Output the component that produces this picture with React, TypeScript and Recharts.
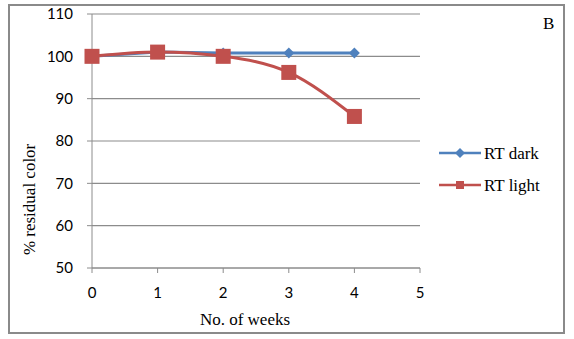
import React from "react";
import {
  LineChart,
  Line,
  XAxis,
  YAxis,
  CartesianGrid,
  Legend,
} from "recharts";

const weeks = [0, 1, 2, 3, 4];
const rtDark = [100, 101, 100.8, 100.8, 100.8];
const rtLight = [100, 101, 100, 96.2, 85.8];
const xTicks = [0, 1, 2, 3, 4, 5];
const yTicks = [50, 60, 70, 80, 90, 100, 110];

const data = weeks.map((w, i) => ({ week: w, dark: rtDark[i], light: rtLight[i] }));

const BLUE = "#4F81BD";
const RED = "#C0504D";
const GRID = "#8c8c8c";
const SERIF = "'Liberation Serif', 'Times New Roman', serif";
const SANS = "Lato, 'Open Sans', sans-serif";

const Diamond = (props: any) => {
  const { cx, cy } = props;
  if (cx == null || cy == null) return null;
  const r = 5.5;
  return (
    <path
      d={`M${cx},${cy - r} L${cx + r},${cy} L${cx},${cy + r} L${cx - r},${cy} Z`}
      fill={BLUE}
    />
  );
};

const Square = (props: any) => {
  const { cx, cy } = props;
  if (cx == null || cy == null) return null;
  const s = 7.5;
  return <rect x={cx - s} y={cy - s} width={s * 2} height={s * 2} fill={RED} />;
};

const LegendContent = () => (
  <svg width={125} height={70}>
    <line x1={0} y1={12} x2={42} y2={12} stroke={BLUE} strokeWidth={2.5} />
    <path d="M21,7 L26,12 L21,17 L16,12 Z" fill={BLUE} />
    <text x={45} y={18} fontFamily={SERIF} fontSize={17} fill="#000">
      RT dark
    </text>
    <line x1={0} y1={44} x2={42} y2={44} stroke={RED} strokeWidth={2.5} />
    <rect x={17} y={40} width={8} height={8} fill={RED} />
    <text x={45} y={50} fontFamily={SERIF} fontSize={17} fill="#000">
      RT light
    </text>
  </svg>
);

export default function App() {
  return (
    <div style={{ position: "absolute", left: 0, top: 0, width: 574, height: 339, background: "#fff" }}>
      <div
        style={{
          position: "absolute",
          left: 8,
          top: 4,
          width: 553,
          height: 326,
          border: "2px solid #8a8a8a",
        }}
      />
      <div
        style={{
          position: "absolute",
          left: 543,
          top: 14,
          fontFamily: SERIF,
          fontSize: 17,
          color: "#000",
        }}
      >
        B
      </div>
      <LineChart
        width={574}
        height={339}
        data={data}
        margin={{ top: 14, right: 154, left: 32, bottom: 41 }}
        style={{ position: "absolute", left: 0, top: 0 }}
      >
        <CartesianGrid vertical={false} stroke={GRID} strokeWidth={1.2} />
        <XAxis
          dataKey="week"
          type="number"
          domain={[0, 5]}
          ticks={xTicks}
          height={30}
          stroke={GRID}
          tickSize={5}
          tickMargin={14}
          tick={{ fill: "#000", fontFamily: SANS, fontSize: 15 }}
          label={{
            content: (p: any) => {
              const vb = p.viewBox;
              return (
                <text
                  x={vb.x + vb.width / 2 - 11}
                  y={vb.y + 57}
                  textAnchor="middle"
                  fontFamily={SERIF}
                  fontSize={17}
                  fill="#000"
                >
                  No. of weeks
                </text>
              );
            },
          }}
        />
        <YAxis
          type="number"
          domain={[50, 110]}
          ticks={yTicks}
          width={60}
          stroke={GRID}
          tickSize={5}
          tickMargin={14}
          tick={{ fill: "#000", fontFamily: SANS, fontSize: 15 }}
          label={{
            content: (p: any) => {
              const vb = p.viewBox;
              const x = 35;
              const y = vb.y + vb.height * 0.73;
              return (
                <text
                  x={x}
                  y={y}
                  transform={`rotate(-90, ${x}, ${y})`}
                  textAnchor="middle"
                  fontFamily={SERIF}
                  fontSize={17}
                  fill="#000"
                >
                  % residual color
                </text>
              );
            },
          }}
        />
        <Legend
          layout="horizontal"
          verticalAlign="middle"
          align="center"
          content={<LegendContent />}
          wrapperStyle={{ position: "absolute", left: 439, top: 141, width: 125 }}
        />
        <Line
          dataKey="dark"
          name="RT dark"
          type="linear"
          stroke={BLUE}
          strokeWidth={3}
          dot={<Diamond />}
          activeDot={false}
          isAnimationActive={false}
        />
        <Line
          dataKey="light"
          name="RT light"
          type="monotone"
          stroke={RED}
          strokeWidth={3}
          dot={<Square />}
          activeDot={false}
          isAnimationActive={false}
        />
      </LineChart>
    </div>
  );
}
